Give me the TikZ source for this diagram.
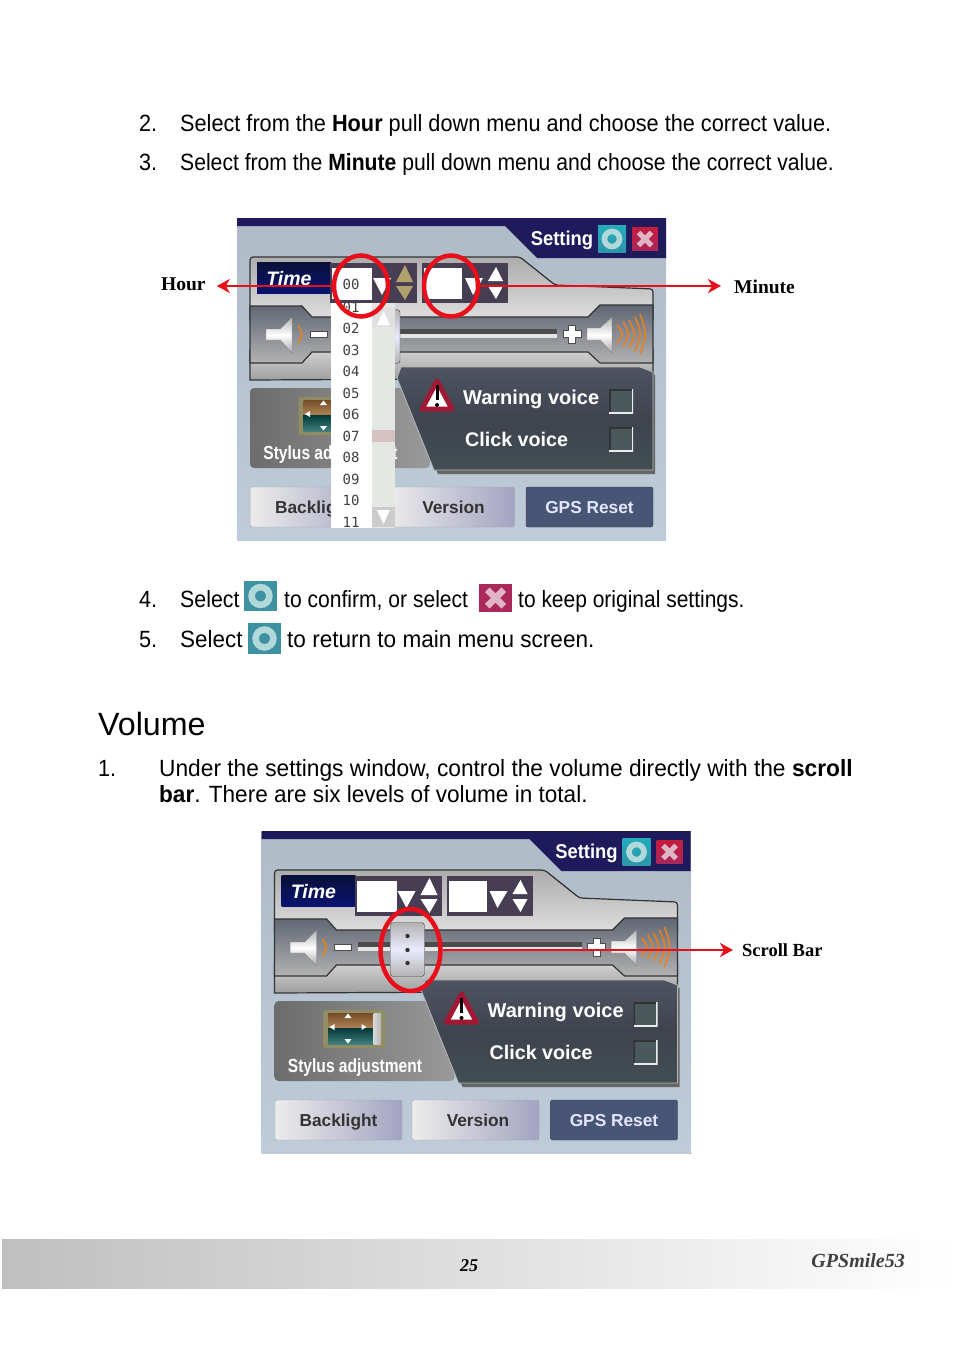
\documentclass[tikz,border=0pt]{standalone}
\usepackage{fontspec}
\setmainfont{Liberation Sans}
\newfontfamily\labelface{Liberation Serif}
\newfontfamily\listface{DejaVu Sans Mono}
\usepackage{xcolor}
\definecolor{panelblue}{RGB}{190,204,217}
\definecolor{panelnavy}{RGB}{30,26,92}
\definecolor{timenavy}{RGB}{12,24,80}
\definecolor{fieldbox}{RGB}{72,62,84}
\definecolor{bandgrey}{RGB}{96,102,116}
\definecolor{warntop}{RGB}{78,84,98}
\definecolor{warnbottom}{RGB}{66,78,82}
\definecolor{warnred}{RGB}{160,24,52}
\definecolor{markred}{RGB}{232,14,26}
\definecolor{resetblue}{RGB}{72,86,118}
\definecolor{tealok}{RGB}{44,150,170}
\definecolor{crossrose}{RGB}{170,40,90}
\definecolor{tanarrow}{RGB}{176,160,108}
\definecolor{checkfill}{RGB}{74,90,92}
\usetikzlibrary{shapes,arrows,arrows.meta,positioning,calc}

\newcommand{\settingpanel}[4]{%
\begin{scope}[shift={(#1,#2)}, name prefix=#3-]
% Window background
\fill[top color=panelblue!92!black, bottom color=panelblue] (237,218) rectangle (666,540.5);
\fill[panelnavy] (237,218) -- (666,218) -- (666,258) -- (537,258) -- (505,226) -- (237,226) -- cycle;
\node[paneltext, font=\fontsize{20}{24}\bfseries\selectfont, transform shape, xscale=0.92] (setting) at (562,240) {Setting};
\node[okicon=28, top color=tealok!80!cyan, bottom color=tealok] (ok) at (612,239) {};
\node[crossicon=26, top color=crossrose!70!red, bottom color=crossrose] (cancel) at (645,239) {};

% Time strip
\draw[metal, top color=gray!65, bottom color=gray!25] (250,263) [rounded corners=3pt] -- (250,257) -- (520,257) -- (555,285) -- (653,289) [sharp corners] -- (653,320) -- (250,320) -- cycle;
\node[panelbox, top color=timenavy!70!black, bottom color=timenavy!80!blue, minimum width=74pt, minimum height=31pt] (timebox) at (294,278) {};
\node[paneltext, font=\fontsize{19.5}{24}\bfseries\itshape\selectfont] (timelabel) at (289,279) {Time};
\fill[fieldbox] (330,263) rectangle (417,303);
\fill[fieldbox] (422,263) rectangle (508,303);
\fill[white] (332,268) rectangle (372,299);
\fill[white] (424,268) rectangle (462,299);
\fill[white] (373,278) -- (391,278) -- (382,295) -- cycle;
\fill[#4] (396,282) -- (413,282) -- (405,265) -- cycle;
\fill[#4] (396,286) -- (413,286) -- (405,300) -- cycle;
\fill[white] (465,278) -- (483,278) -- (473,295) -- cycle;
\fill[white] (488,281) -- (503,281) -- (496,267) -- cycle;
\fill[white] (488,286) -- (503,286) -- (496,299) -- cycle;

% Volume band
\draw[metal, top color=gray!35, bottom color=gray!75] (250,350) -- (653,350) -- (653,378) -- (250,380) -- cycle;
\draw[metal, top color=bandgrey, bottom color=gray!60] (250,306) -- (302,306) -- (312,317) -- (588,317) -- (600,305) -- (653,305) -- (653,363) -- (600,363) -- (588,352) -- (312,352) -- (302,363) -- (250,363) -- cycle;
\fill[gray!20] (333,334) rectangle (557,338);
\fill[black!70] (333,329) rectangle (557,334);
\fill[white, draw=black!70] (310,331) rectangle (327,337);
\fill[white, draw=black!70, line width=1pt] (568.5,325) -- (575.5,325) -- (575.5,330.5) -- (581,330.5) -- (581,337.5) -- (575.5,337.5) -- (575.5,343) -- (568.5,343) -- (568.5,337.5) -- (563,337.5) -- (563,330.5) -- (568.5,330.5) -- cycle;
\draw[speaker] (266,329) -- (280,329) -- (292,317) -- (292,353) -- (280,340) -- (266,340) -- cycle;
\draw[speaker] (587,328) -- (600,328) -- (612,317) -- (612,353) -- (600,340) -- (587,340) -- cycle;
\draw[waves] (298,326) .. controls (303,334) .. (298,343);
\foreach \wx/\wy in {617/9, 623/12, 629/14, 635/17, 640/20}
    \draw[waves] (\wx,334-\wy) .. controls (\wx+7,334) .. (\wx,334+\wy);
\node[panelbox, rounded corners=3pt, top color=gray!60, bottom color=gray!60, middle color=blue!8!white, draw=black!75, minimum width=34pt, minimum height=54pt] (thumb) at (383,336.5) {};
\foreach \dy in {323, 337, 350}
    \fill[black!80] (383,\dy) circle (2.2);

% Stylus adjustment
\node[panelbox, rounded corners=4pt, left color=gray!85!black, right color=gray!80, minimum width=180pt, minimum height=80pt] (stylus) at (340,428) {};
\node[panelbox, rounded corners=3pt, fill=gray!70!olive, minimum width=62pt, minimum height=38pt] (styluspad) at (329.5,416) {};
\fill[top color=black!80!cyan, bottom color=teal!50!gray] (303.5,414) rectangle (349,431);
\fill[top color=brown!60!black, bottom color=brown!70!gray] (303.5,400) rectangle (349,414);
\fill[left color=gray!30, right color=gray!60] (349,400) rectangle (356.5,431);
\fill[white] (320,405) -- (327,405) -- (323.5,400.5) -- cycle;
\fill[white] (320,426) -- (327,426) -- (323.5,430.5) -- cycle;
\fill[white] (310,411) -- (310,417) -- (305,414) -- cycle;
\fill[white] (337,411) -- (337,417) -- (342,414) -- cycle;
\node[paneltext, font=\fontsize{19}{24}\bfseries\selectfont, squeezed] (styluslabel) at (330.5,455) {Stylus adjustment};

% Warning and click voice
\fill[black!60] (400,370) -- (640,370) -- (655,375) -- (655,474) -- (438,474) -- (397,378) -- cycle;
\draw[draw=gray!55, line width=0.8pt, top color=warntop, bottom color=warnbottom, middle color=warntop!80!black] (401,367) -- (640,367) -- (653,372) -- (653,470) -- (434,470) -- (397,378) -- cycle;
\draw[warnred, fill=white, line width=5pt, line join=round] (437,381) -- (422,409) -- (452,409) -- cycle;
\draw[black, line width=3pt] (437,385) -- (437,400);
\fill[black] (437,405) circle (2);
\node[paneltext, font=\fontsize{20}{24}\bfseries\selectfont, anchor=west] (warningvoice) at (463,399.5) {Warning voice};
\node[paneltext, font=\fontsize{19.7}{24}\bfseries\selectfont, anchor=west] (clickvoice) at (465,439) {Click voice};
\node[checkbox] (warningcheck) at (621,401) {};
\node[checkbox] (clickcheck) at (621,439) {};

% Buttons
\node[greybutton] (backlight) at (314,507) {Backlight};
\node[greybutton] (version) at (451,507) {\hspace*{5pt}Version};
\node[greybutton, left color=resetblue, right color=resetblue, draw=resetblue!70!black, text=white!90!blue] (gpsreset) at (589.5,507) {GPS Reset};
\end{scope}
}

\begin{document}
\begin{tikzpicture}[
    x=1pt, y=-1pt,
    bodytext/.style={anchor=base west, inner sep=0pt, font=\fontsize{23.5}{28}\selectfont, transform shape, xscale=#1},
    bodytext/.default=0.96,
    paneltext/.style={text=white, inner sep=0pt},
    squeezed/.style={transform shape, xscale=0.82},
    panelbox/.style={rectangle, inner sep=0pt},
    metal/.style={draw=black!80, line width=1.2pt},
    speaker/.style={draw=black!50, top color=gray!60, bottom color=gray!70, middle color=white},
    waves/.style={draw=orange!85!gray, line width=1.5pt},
    checkbox/.style={rectangle, inner sep=0pt, minimum width=24pt, minimum height=24pt, fill=checkfill,
        path picture={\draw[black!80, line width=3pt] (path picture bounding box.south west) -- (path picture bounding box.north west) -- (path picture bounding box.north east);
        \draw[white!85!gray, line width=3pt] (path picture bounding box.south west) -- (path picture bounding box.south east) -- (path picture bounding box.north east);}},
    greybutton/.style={rectangle, rounded corners=2pt, inner sep=0pt, minimum width=127pt, minimum height=40pt, text height=12.5pt, text depth=0pt, left color=gray!15, right color=blue!20!gray!60, draw=gray!70, text=black!80, font=\fontsize{17.3}{21}\bfseries\selectfont},
    okicon/.style={rectangle, inner sep=0pt, minimum width=#1pt, minimum height={0.93*#1pt}, fill=tealok!80!gray,
        path picture={\draw[white!70!teal, line width={0.2*#1pt}] (path picture bounding box.center) circle ({0.27*#1});}},
    crossicon/.style={rectangle, inner sep=0pt, minimum width=#1pt, minimum height={0.87*#1pt}, fill=crossrose,
        path picture={\draw[white!65!crossrose, line width={0.2*#1pt}] ([xshift=-0.25*#1pt, yshift=-0.25*#1pt]path picture bounding box.center) -- ([xshift=0.25*#1pt, yshift=0.25*#1pt]path picture bounding box.center) ([xshift=-0.25*#1pt, yshift=0.25*#1pt]path picture bounding box.center) -- ([xshift=0.25*#1pt, yshift=-0.25*#1pt]path picture bounding box.center);}},
    ring/.style={ellipse, draw=markred, line width=4.5pt, inner sep=0pt, fill=none},
    marktext/.style={inner sep=0pt, anchor=base west, font=\labelface\fontsize{19.5}{23}\bfseries\selectfont},
    arrow/.style={-{Stealth[length=13pt, width=14pt, inset=4pt]}, line width=2.4pt, markred}
]
\useasboundingbox (0,0) rectangle (954,1351);

% Steps 2 and 3
\node[bodytext=0.92] (numtwo) at (139,132) {2.};
\node[bodytext=0.923] (steptwo) at (180,132) {Select from the \textbf{Hour} pull down menu and choose the correct value.};
\node[bodytext=0.92] (numthree) at (139,171) {3.};
\node[bodytext=0.90] (stepthree) at (180,171) {Select from the \textbf{Minute} pull down menu and choose the correct value.};

% Upper screen
\settingpanel{0}{0}{upper}{tanarrow}

% Hour pull down list
\fill[white] (331,303) rectangle (372,528);
\fill[green!10!gray!20] (372,303) rectangle (395,528);
\fill[gray!25] (372,307) rectangle (395,327);
\fill[white] (377,325) -- (390,325) -- (383.5,311) -- cycle;
\fill[gray!40] (372,507) rectangle (395,527);
\fill[white] (377,510) -- (390,510) -- (383.5,524) -- cycle;
\fill[red!20!gray!40] (372,430) rectangle (395,442);
\foreach \num/\ypos in {01/307, 02/328.5, 03/350, 04/371.5, 05/393, 06/414.5, 07/436, 08/457.5, 09/479, 10/500.5, 11/522}
    \node[inner sep=0pt, text=black!75, font=\listface\fontsize{14}{16}\selectfont] (hour\num) at (351,\ypos) {\num};
\fill[fieldbox] (330,300) rectangle (395,303);
\node[rectangle, fill=white, inner sep=0pt, text=black!75, minimum width=37pt, minimum height=32pt, font=\listface\fontsize{14}{16}\selectfont] (hourzero) at (353.5,284) {\hspace*{-5pt}00};

% Upper screen marks
\node[ring, minimum width=54pt, minimum height=61pt] (hourring) at (361,286) {};
\node[ring, minimum width=54pt, minimum height=61pt] (minutering) at (451,286) {};
\node[marktext] (hourlabel) at (161,290) {Hour};
\node[marktext] (minutelabel) at (734,293) {Minute};
\draw[arrow] (hourring.west) -- ([xshift=11pt]hourlabel.east |- hourring.west);
\draw[arrow] (minutering.east) -- ([xshift=-13pt]minutelabel.west |- minutering.east);

% Steps 4 and 5
\node[bodytext=0.92] (numfour) at (139,607) {4.};
\node[bodytext=0.908] (stepfour) at (180,607) {Select};
\node[okicon=33] (fourok) at (260.5,596) {};
\node[bodytext=0.897] (fourmid) at (284,607) {to confirm, or select};
\node[crossicon=33] (fourcross) at (495.5,598) {};
\node[bodytext=0.893] (fourend) at (518,607) {to keep original settings.};
\node[bodytext=0.92] (numfive) at (139,647) {5.};
\node[bodytext=0.954] (stepfive) at (180,647) {Select};
\node[okicon=33] (fiveok) at (264.5,638.5) {};
\node[bodytext] (fiveend) at (287,647) {to return to main menu screen.};

% Volume section
\node[bodytext=1, font=\fontsize{32.2}{38}\selectfont] (volumehead) at (98,735) {Volume};
\node[bodytext=0.92] (numone) at (98,776) {1.};
\node[bodytext=0.967] (stepone) at (159,776) {Under the settings window, control the volume directly with the \textbf{scroll}};
\node[bodytext=0.96] (steponeb) at (159,802) {\textbf{bar}. There are six levels of volume in total.};

% Lower screen
\settingpanel{24.5}{613}{lower}{white}
\node[ring, minimum width=60pt, minimum height=82pt] (scrollring) at (410.5,950) {};
\node[marktext, font=\labelface\fontsize{18.5}{23}\bfseries\selectfont] (scrolllabel) at (742,956) {Scroll Bar};
\draw[arrow] (scrollring.east) -- ([xshift=-9pt]scrolllabel.west |- scrollring.east);

% Footer
\node[rectangle, inner sep=0pt, minimum width=952pt, minimum height=49pt, left color=gray!50, right color=white] (footerbar) at (478,1263.5) {};
\node[inner sep=0pt, anchor=base, font=\labelface\fontsize{18}{22}\bfseries\itshape\selectfont] (pagenum) at (469,1271) {25};
\node[inner sep=0pt, anchor=base east, text=black!75, font=\labelface\fontsize{20}{24}\bfseries\itshape\selectfont] (brand) at (905,1267) {GPSmile53};
\end{tikzpicture}
\end{document}
